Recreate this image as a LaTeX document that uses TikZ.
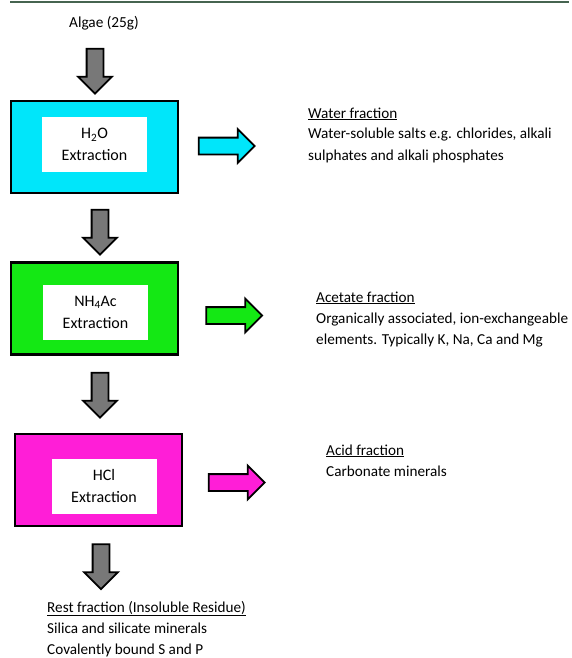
\documentclass[tikz,border=0pt]{standalone}
\usepackage{fontspec}
\setmainfont{Carlito}
\usetikzlibrary{shapes.arrows}
\definecolor{rulegreen}{RGB}{70,100,80}
\definecolor{boxcyan}{RGB}{0,230,250}
\definecolor{boxgreen}{RGB}{20,232,20}
\definecolor{boxpink}{RGB}{255,30,215}
\definecolor{arrowgrey}{RGB}{120,120,120}
\begin{document}
\begin{tikzpicture}[x=1pt,y=-1pt,
  outerbox/.style={draw, line width=2.4pt, minimum width=167pt, minimum height=92pt, inner sep=0pt},
  innerbox/.style={fill=white, minimum width=105pt, minimum height=55pt, inner sep=0pt, align=center, font=\fontsize{16}{22}\selectfont},
  blockarrow/.style={single arrow, draw, line width=1.8pt, inner xsep=0pt, inner ysep=7.5pt, single arrow head extend=8.5pt, minimum height=#1},
  downarrow/.style={blockarrow=45pt, fill=arrowgrey, rotate=-90},
  fraction/.style={anchor=base west, inner sep=0pt, align=left, font=\fontsize{15.2}{21}\selectfont}]
   \useasboundingbox (0,0) rectangle (571,658);
   \draw[rulegreen, line width=2pt] (10,2) -- (569,2);
   \node[anchor=base, inner sep=0pt, font=\fontsize{15.3}{21}\selectfont] (algae) at (104,28) {Algae (25g)};
   \node[downarrow] (a1) at (95,67) {};
   \node[outerbox, fill=boxcyan] (h2obox) at (94.5,147) {};
   \node[innerbox] (h2otext) at (94.5,144.5) {H\textsubscript{2}O\\Extraction};
   \node[blockarrow=56pt, fill=boxcyan] (h2oout) at (222.5,146) {};
   % base anchor sits on the last line
   \node[fraction] (water) at (308,160) {\underline{Water fraction}\\Water-soluble salts e.g. chlorides, alkali\\sulphates and alkali phosphates};
   \node[downarrow] (a2) at (100,228) {};
   \node[outerbox, fill=boxgreen] (acbox) at (94.5,308.5) {};
   \node[innerbox] (actext) at (95.5,312) {NH\textsubscript{4}Ac\\Extraction};
   \node[blockarrow=56pt, fill=boxgreen] (acout) at (230,315.5) {};
   \node[fraction] (acetate) at (316,344) {\underline{Acetate fraction}\\Organically associated, ion-exchangeable\\elements. Typically K, Na, Ca and Mg};
   \node[downarrow] (a3) at (100,391) {};
   \node[outerbox, fill=boxpink] (hclbox) at (98.5,480) {};
   \node[innerbox] (hcltext) at (104,486) {HCl\\Extraction};
   \node[blockarrow=56pt, fill=boxpink] (hclout) at (232.5,482.5) {};
   \node[fraction] (acid) at (326,476) {\underline{Acid fraction}\\Carbonate minerals};
   \node[downarrow] (a4) at (101,562.5) {};
   \node[fraction] (rest) at (47,654) {\underline{Rest fraction (Insoluble Residue)}\\Silica and silicate minerals\\Covalently bound S and P};
\end{tikzpicture}
\end{document}
